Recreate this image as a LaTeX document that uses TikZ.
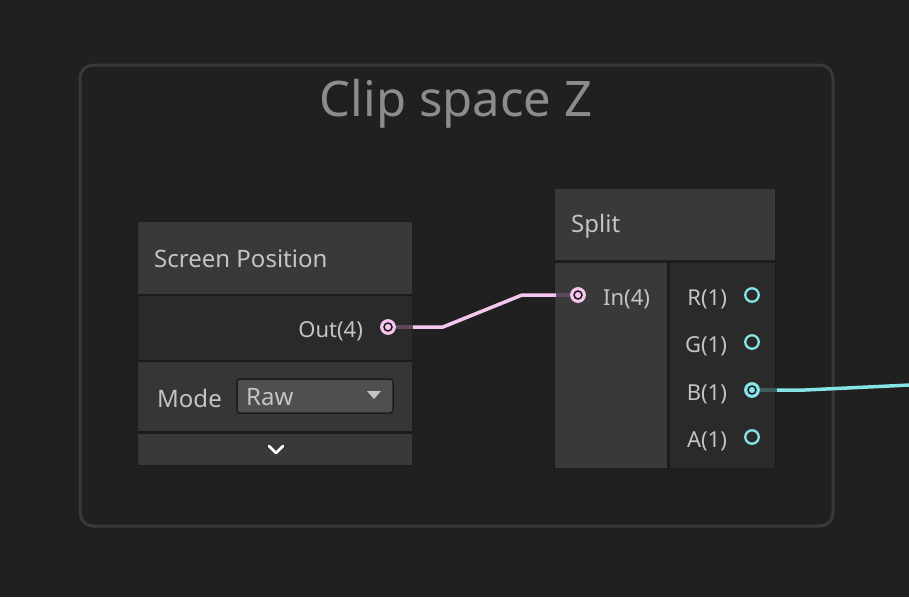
\documentclass[tikz,border=0pt]{standalone}
\usepackage{fontspec}
\setmainfont{Noto Sans}
\usetikzlibrary{positioning}
\definecolor{canvas}{HTML}{202020}
\definecolor{groupline}{HTML}{393939}
\definecolor{headfill}{HTML}{393939}
\definecolor{rowfill}{HTML}{363636}
\definecolor{bodyfill}{HTML}{2A2A2A}
\definecolor{edgeline}{HTML}{1C1C1C}
\definecolor{labelgray}{HTML}{C4C4C4}
\definecolor{titlegray}{HTML}{8C8C8C}
\definecolor{dropfill}{HTML}{4F4F4F}
\definecolor{vecpink}{HTML}{F6C5F0}
\definecolor{floatcyan}{HTML}{84E4E7}
\definecolor{pinkdim}{HTML}{5C4A58}
\definecolor{cyandim}{HTML}{3E5C5D}
\tikzset{
headtext/.style={text=labelgray, font=\fontsize{24}{28}\selectfont, inner sep=0pt, anchor=west}, % node titles
porttext/.style={text=labelgray, font=\fontsize{22}{26}\selectfont, inner sep=0pt, yshift=-4pt}, % slot names
port/.style={circle, minimum size=13.5pt, inner sep=0pt, line width=2.3pt}, % slot circles
openport/.style={port, draw=#1, fill=bodyfill},
wiredport/.style={port, draw=#1, fill=#1, path picture={\draw[edgeline, line width=1.5pt] (path picture bounding box.center) circle (4pt);}},
stub/.style={line width=3.5pt, draw=#1}, % dim piece next to a wired slot
wire/.style={line width=3.5pt, draw=#1, line join=round},
}
\begin{document}
\begin{tikzpicture}[x=1pt, y=-1pt]
  \fill[canvas] (0,0) rectangle (909,597);
  \useasboundingbox (0,0) rectangle (909,597);

  % group
  \draw[groupline, line width=3pt, rounded corners=13pt] (80,65) rectangle (833,526);
  \node[text=titlegray, font=\fontsize{49}{56}\selectfont, inner sep=0pt] (grouptitle) at (456,104) {Clip space Z};

  % screen position node
  \fill[edgeline] (137,221) rectangle (413,466);
  \fill[headfill] (138,222) rectangle (412,294);
  \fill[bodyfill] (138,296) rectangle (412,360);
  \fill[rowfill] (138,362) rectangle (412,431);
  \fill[headfill] (138,434) rectangle (412,465);
  \node[headtext] (sptitle) at (154,259) {Screen Position};
  \node[wiredport=vecpink] (outport) at (388,327) {};
  \node[porttext, left=17pt of outport] (outlabel) {Out(4)};
  \node[headtext] (modelabel) at (157,398) {Mode};
  \draw[edgeline, fill=dropfill, line width=1.5pt, rounded corners=3pt] (237,379) rectangle (393,413);
  \node[headtext] (modevalue) at (246,397) {Raw};
  \fill[labelgray] (367,391) -- (381,391) -- (374,399) -- cycle;
  \draw[white, line width=2.6pt, line cap=round, line join=round] (269,446) -- (276,453) -- (283,446);

  % split node
  \fill[edgeline] (554,188) rectangle (776,469);
  \fill[headfill] (555,189) rectangle (775,260);
  \fill[headfill] (555,263) rectangle (667,468);
  \fill[bodyfill] (670,263) rectangle (775,468);
  \node[headtext] (splittitle) at (571,226) {Split};
  \node[wiredport=vecpink] (inport) at (578,295) {};
  \node[porttext, right=17pt of inport] (inlabel) {In(4)};
  \node[openport=floatcyan] (rport) at (752,295) {};
  \node[openport=floatcyan] (gport) at (752,342) {};
  \node[wiredport=floatcyan] (bport) at (752,390) {};
  \node[openport=floatcyan] (aport) at (752,437) {};
  \node[porttext, left=17pt of rport] (rlabel) {R(1)};
  \node[porttext, left=17pt of gport] (glabel) {G(1)};
  \node[porttext, left=17pt of bport] (blabel) {B(1)};
  \node[porttext, left=17pt of aport] (alabel) {A(1)};

  % wires
  \coordinate (outstub) at (413,327);
  \coordinate (instub) at (556,295);
  \coordinate (bstub) at (777,390);
  \coordinate (offpage) at (910,385);
  \draw[stub=pinkdim] (outport.east) -- (outstub);
  \draw[wire=vecpink] (outstub) -- (443,327) -- (522,295) -- (instub);
  \draw[stub=pinkdim] (instub) -- (inport.west);
  \draw[stub=cyandim] (bport.east) -- (bstub);
  \draw[wire=floatcyan] (bstub) -- (805,390) -- (offpage);
\end{tikzpicture}
\end{document}
